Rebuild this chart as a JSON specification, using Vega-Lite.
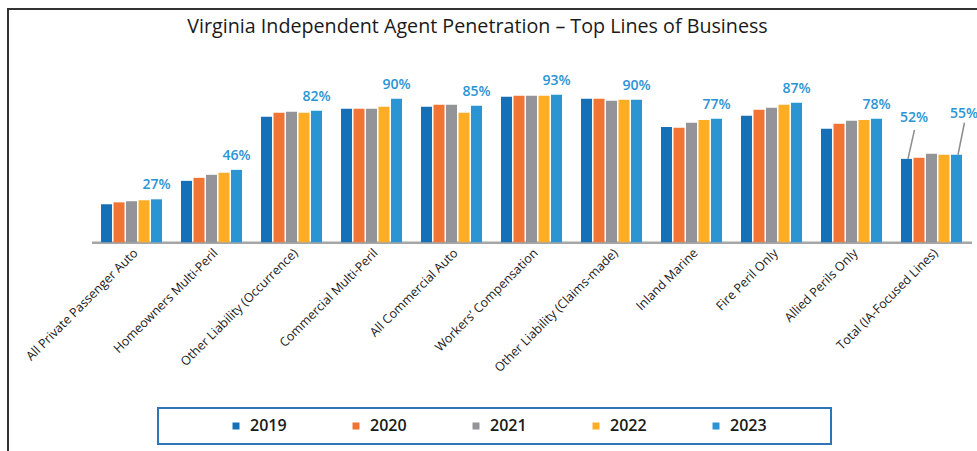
{
  "$schema": "https://vega.github.io/schema/vega-lite/v6.json",
  "width": 969,
  "height": 442,
  "autosize": {"type": "none"},
  "padding": {"left": 8, "top": 9, "right": 0, "bottom": 0},
  "background": "white",
  "title": {
    "text": "Virginia Independent Agent Penetration – Top Lines of Business",
    "anchor": "middle",
    "baseline": "alphabetic",
    "offset": -44,
    "dx": -15,
    "font": "Open Sans",
    "fontSize": 19.7,
    "fontWeight": "normal",
    "color": "#1a1a1a"
  },
  "data": {
    "values": [
      {"line": "All Private Passenger Auto", "year": "2019", "value": 23.9},
      {"line": "All Private Passenger Auto", "year": "2020", "value": 25.1},
      {"line": "All Private Passenger Auto", "year": "2021", "value": 25.8},
      {"line": "All Private Passenger Auto", "year": "2022", "value": 26.4},
      {"line": "All Private Passenger Auto", "year": "2023", "value": 27.0, "label": "27%"},
      {"line": "Homeowners Multi-Peril", "year": "2019", "value": 38.6},
      {"line": "Homeowners Multi-Peril", "year": "2020", "value": 40.5},
      {"line": "Homeowners Multi-Peril", "year": "2021", "value": 42.4},
      {"line": "Homeowners Multi-Peril", "year": "2022", "value": 43.7},
      {"line": "Homeowners Multi-Peril", "year": "2023", "value": 45.5, "label": "46%"},
      {"line": "Other Liability (Occurrence)", "year": "2019", "value": 78.8},
      {"line": "Other Liability (Occurrence)", "year": "2020", "value": 81.3},
      {"line": "Other Liability (Occurrence)", "year": "2021", "value": 82.0},
      {"line": "Other Liability (Occurrence)", "year": "2022", "value": 81.3},
      {"line": "Other Liability (Occurrence)", "year": "2023", "value": 82.6, "label": "82%"},
      {"line": "Commercial Multi-Peril", "year": "2019", "value": 83.9},
      {"line": "Commercial Multi-Peril", "year": "2020", "value": 83.9},
      {"line": "Commercial Multi-Peril", "year": "2021", "value": 83.9},
      {"line": "Commercial Multi-Peril", "year": "2022", "value": 85.1},
      {"line": "Commercial Multi-Peril", "year": "2023", "value": 90.1, "label": "90%"},
      {"line": "All Commercial Auto", "year": "2019", "value": 85.1},
      {"line": "All Commercial Auto", "year": "2020", "value": 86.4},
      {"line": "All Commercial Auto", "year": "2021", "value": 86.4},
      {"line": "All Commercial Auto", "year": "2022", "value": 81.3},
      {"line": "All Commercial Auto", "year": "2023", "value": 85.7, "label": "85%"},
      {"line": "Workers’ Compensation", "year": "2019", "value": 91.4},
      {"line": "Workers’ Compensation", "year": "2020", "value": 92.0},
      {"line": "Workers’ Compensation", "year": "2021", "value": 92.0},
      {"line": "Workers’ Compensation", "year": "2022", "value": 92.0},
      {"line": "Workers’ Compensation", "year": "2023", "value": 92.7, "label": "93%"},
      {"line": "Other Liability (Claims-made)", "year": "2019", "value": 90.1},
      {"line": "Other Liability (Claims-made)", "year": "2020", "value": 90.1},
      {"line": "Other Liability (Claims-made)", "year": "2021", "value": 88.9},
      {"line": "Other Liability (Claims-made)", "year": "2022", "value": 89.5},
      {"line": "Other Liability (Claims-made)", "year": "2023", "value": 89.5, "label": "90%"},
      {"line": "Inland Marine", "year": "2019", "value": 72.5},
      {"line": "Inland Marine", "year": "2020", "value": 71.9},
      {"line": "Inland Marine", "year": "2021", "value": 75.1},
      {"line": "Inland Marine", "year": "2022", "value": 76.9},
      {"line": "Inland Marine", "year": "2023", "value": 77.6, "label": "77%"},
      {"line": "Fire Peril Only", "year": "2019", "value": 79.5},
      {"line": "Fire Peril Only", "year": "2020", "value": 83.2},
      {"line": "Fire Peril Only", "year": "2021", "value": 84.5},
      {"line": "Fire Peril Only", "year": "2022", "value": 86.4},
      {"line": "Fire Peril Only", "year": "2023", "value": 87.6, "label": "87%"},
      {"line": "Allied Perils Only", "year": "2019", "value": 71.3},
      {"line": "Allied Perils Only", "year": "2020", "value": 74.4},
      {"line": "Allied Perils Only", "year": "2021", "value": 76.3},
      {"line": "Allied Perils Only", "year": "2022", "value": 76.9},
      {"line": "Allied Perils Only", "year": "2023", "value": 77.6, "label": "78%"},
      {"line": "Total (IA-Focused Lines)", "year": "2019", "value": 52.4, "label": "52%"},
      {"line": "Total (IA-Focused Lines)", "year": "2020", "value": 53.1},
      {"line": "Total (IA-Focused Lines)", "year": "2021", "value": 55.6},
      {"line": "Total (IA-Focused Lines)", "year": "2022", "value": 55.0},
      {"line": "Total (IA-Focused Lines)", "year": "2023", "value": 55.0, "label": "55%"}
    ]
  },
  "encoding": {
    "x": {
      "field": "line",
      "type": "nominal",
      "sort": null,
      "scale": {"range": [83.5, 963.5], "paddingInner": 0.2375, "paddingOuter": 0.119},
      "axis": {
        "title": null,
        "orient": "bottom",
        "offset": -208.7,
        "labelAngle": -45,
        "labelFont": "Open Sans",
        "labelFontSize": 12.5,
        "labelColor": "#1a1a1a",
        "labelPadding": 4,
        "labelLimit": 300,
        "ticks": false,
        "domainColor": "#A6A6A6",
        "domainWidth": 2.5
      }
    },
    "y": {
      "field": "value",
      "type": "quantitative",
      "scale": {"domain": [0, 100], "range": [233.3, 74.1], "nice": false, "zero": true},
      "axis": null
    }
  },
  "layer": [
    {
      "mark": {"type": "bar"},
      "encoding": {
        "xOffset": {"field": "year", "type": "nominal", "scale": {"paddingInner": 0.12, "paddingOuter": 0}},
        "color": {
          "field": "year",
          "type": "nominal",
          "scale": {"domain": ["2019", "2020", "2021", "2022", "2023"], "range": ["#1570B8", "#F27434", "#929497", "#FBAD26", "#2B94D3"]},
          "legend": {
            "title": "\u200b\u00a0\u00a0\u00a0\u00a0\u00a0\u00a0\u00a0\u00a0\u00a0\u00a0\u00a0\u00a0\u00a0\u00a0\u200b",
            "titleOrient": "left",
            "titleAngle": 0,
            "titlePadding": 5,
            "titleFontSize": 15,
            "titleFont": "Open Sans",
            "orient": "none",
            "legendX": 150,
            "legendY": 399,
            "direction": "horizontal",
            "columns": 5,
            "symbolType": "square",
            "symbolSize": 49,
            "symbolStrokeWidth": 0,
            "labelFont": "Open Sans",
            "labelFontSize": 16,
            "labelFontWeight": 600,
            "labelColor": "#1a1a1a",
            "labelOffset": 6,
            "columnPadding": 61,
            "padding": 10,
            "strokeColor": "#2E75B6",
            "labelExpr": "datum.label == '2023' ? '2023\u00a0\u00a0\u00a0\u00a0\u00a0\u00a0\u00a0\u00a0\u00a0\u00a0\u00a0\u00a0\u00a0\u200b' : datum.label"
          }
        }
      }
    },
    {
      "transform": [{"filter": "datum.label && datum.line != 'Total (IA-Focused Lines)'"}],
      "mark": {"type": "text", "baseline": "alphabetic", "dy": -10, "font": "Open Sans", "fontSize": 14, "fontWeight": 600, "color": "#2B94D3"},
      "encoding": {
        "xOffset": {"field": "year", "type": "nominal", "scale": {"paddingInner": 0.12, "paddingOuter": 0}},
        "text": {"field": "label"}
      }
    },
    {
      "transform": [{"filter": "datum.label && datum.line == 'Total (IA-Focused Lines)'"}],
      "mark": {"type": "text", "baseline": "alphabetic", "dy": -36.5, "dx": 7.5, "font": "Open Sans", "fontSize": 14, "fontWeight": 600, "color": "#2B94D3"},
      "encoding": {
        "xOffset": {"field": "year", "type": "nominal", "scale": {"paddingInner": 0.12, "paddingOuter": 0}},
        "text": {"field": "label"}
      }
    },
    {
      "transform": [{"filter": "datum.line == 'Total (IA-Focused Lines)' && datum.year == '2019'"}],
      "mark": {"type": "rule", "color": "#8C8C8C", "strokeWidth": 1.5, "xOffset": -23.5, "x2Offset": -17, "y2Offset": -29},
      "encoding": {
        "x2": {"field": "line"},
        "y2": {"field": "value"}
      }
    },
    {
      "transform": [{"filter": "datum.line == 'Total (IA-Focused Lines)' && datum.year == '2023'"}],
      "mark": {"type": "rule", "color": "#8C8C8C", "strokeWidth": 1.5, "xOffset": 26.5, "x2Offset": 33, "y2Offset": -32},
      "encoding": {
        "x2": {"field": "line"},
        "y2": {"field": "value"}
      }
    }
  ],
  "config": {
    "view": {"stroke": "#333333", "strokeWidth": 2, "strokeDash": [969, 1411, 442]},
    "legend": {"strokeWidth": 2},
    "text": {"font": "Open Sans"}
  }
}
